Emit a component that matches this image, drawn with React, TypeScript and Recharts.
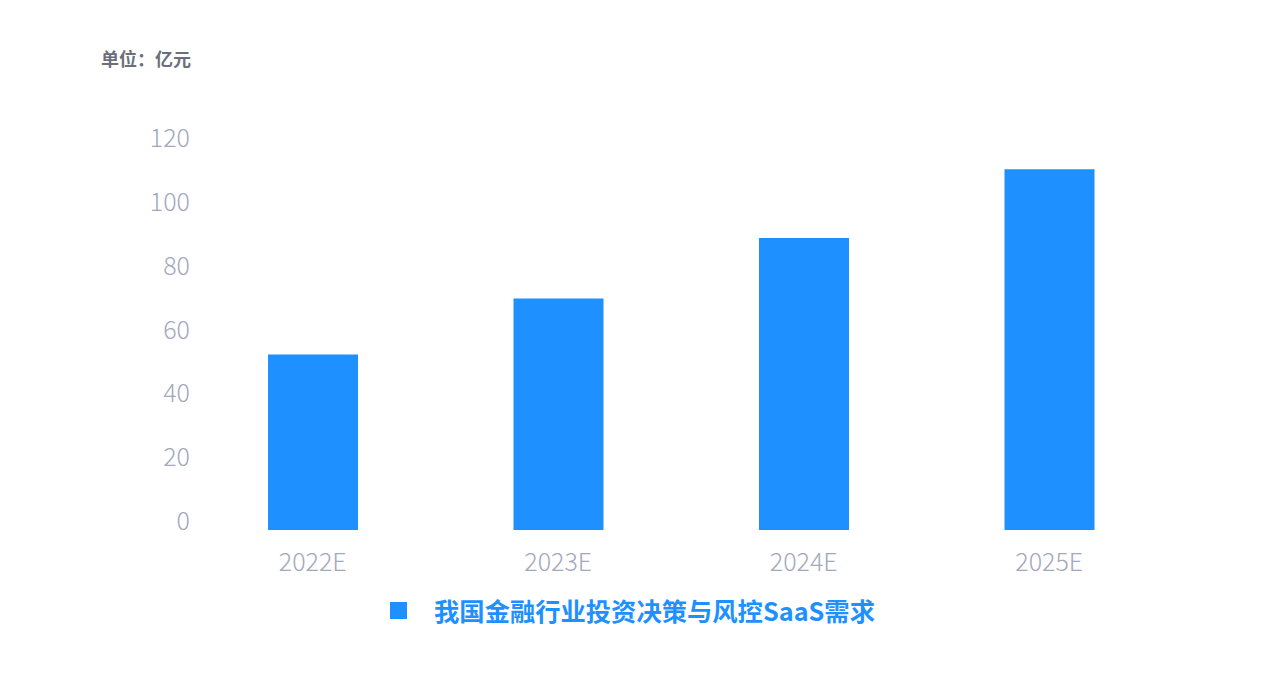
import { BarChart, Bar, XAxis, YAxis, Legend } from 'recharts'

const years = ['2022E', '2023E', '2024E', '2025E']
const demand = [55, 72.5, 91.5, 113]
const yTicks = [0, 20, 40, 60, 80, 100, 120]
const seriesName = '我国金融行业投资决策与风控SaaS需求'

const data = years.map((year, i) => ({ year, demand: demand[i] }))

const BLUE = '#1E90FF'
const TICK = '#a3a8bd'
const FONT = '"Noto Sans CJK SC", "Noto Sans", sans-serif'

const YTick = (props: any) => {
  const { x, y, payload } = props
  return (
    <text x={x} y={y - 11} textAnchor="end" dominantBaseline="central" fill={TICK} fontSize={25} fontWeight={300} fontFamily={FONT}>
      {payload.value}
    </text>
  )
}

const XTick = (props: any) => {
  const { x, y, payload } = props
  return (
    <text x={x} y={y + 30} textAnchor="middle" dominantBaseline="central" fill={TICK} fontSize={25} fontWeight={300} fontFamily={FONT}>
      {payload.value}
    </text>
  )
}

const LegendBox = () => (
  <div style={{ display: 'flex', alignItems: 'center', justifyContent: 'center', fontFamily: FONT }}>
    <span style={{ width: 17, height: 17, background: BLUE, display: 'inline-block', marginRight: 27 }} />
    <span style={{ color: BLUE, fontSize: 25.3, fontWeight: 700 }}>{seriesName}</span>
  </div>
)

export default function App() {
  return (
    <div style={{ position: 'absolute', left: 0, top: 0, width: 1265, height: 689, background: '#fff' }}>
      <div style={{ position: 'absolute', left: 101, top: 45, fontFamily: FONT, fontSize: 18, fontWeight: 700, color: '#6b6f7b' }}>
        单位：亿元
      </div>
      <BarChart width={1265} height={689} data={data} margin={{ top: 147, right: 93, bottom: 109, left: 130 }} barSize={90}>
        <XAxis dataKey="year" axisLine={false} tickLine={false} tickSize={0} tickMargin={0} height={50} tick={<XTick />} interval={0} />
        <YAxis domain={[0, 120]} ticks={yTicks} axisLine={false} tickLine={false} tickSize={0} tickMargin={0} width={60} tick={<YTick />} interval={0} />
        <Legend verticalAlign="middle" align="center" content={<LegendBox />} wrapperStyle={{ top: 592, left: 0, width: 1265 }} />
        <Bar dataKey="demand" name={seriesName} fill={BLUE} isAnimationActive={false} />
      </BarChart>
    </div>
  )
}
